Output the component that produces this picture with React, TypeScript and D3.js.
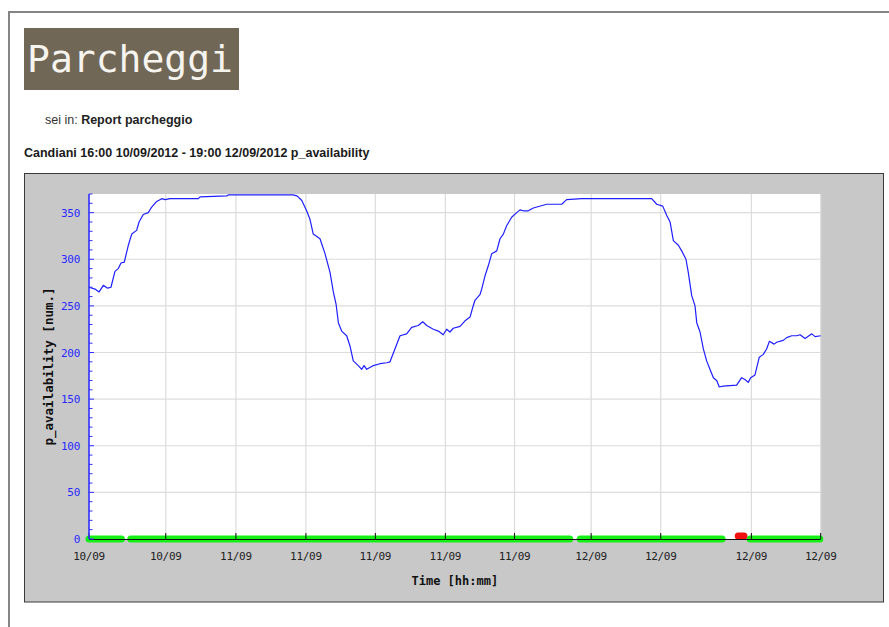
import * as d3 from "d3";

// Candiani car park, p_availability from 16:00 10/09/2012 to 19:00 12/09/2012
const START = new Date(2012, 8, 10, 16, 0);
const SPAN_H = 51;

// hours since START
const hours = [
  0, 0.42, 0.7, 1.0, 1.3, 1.53, 1.81, 2.04, 2.23, 2.46, 2.74, 2.98, 3.32, 3.49, 3.78, 4.13, 4.37, 4.72,
  5.07, 5.3, 5.65, 7.62, 7.74, 9.6, 9.71, 14.22, 14.5, 14.83, 15.17, 15.4, 15.63, 16.1, 16.45, 16.8,
  17.03, 17.22, 17.38, 17.61, 17.96, 18.19, 18.42, 18.77, 19.01, 19.17, 19.36, 19.82, 20.28, 20.75,
  20.98, 21.33, 21.68, 22.14, 22.49, 22.95, 23.26, 23.54, 24.0, 24.35, 24.69, 24.93, 25.16, 25.39,
  25.86, 26.21, 26.56, 26.74, 26.9, 27.25, 27.37, 27.6, 27.83, 28.07, 28.42, 28.65, 28.88, 29.11,
  29.46, 29.81, 30.04, 30.27, 30.62, 30.97, 31.9, 32.95, 33.29, 34.34, 39.22, 39.57, 39.99, 40.27,
  40.5, 40.73, 41.08, 41.31, 41.61, 41.77, 42.01, 42.24, 42.36, 42.59, 42.82, 43.05, 43.28, 43.52,
  43.75, 43.93, 44.21, 45.14, 45.49, 45.72, 45.95, 46.12, 46.42, 46.72, 47.0, 47.24, 47.42, 47.75,
  47.93, 48.39, 48.63, 48.98, 49.33, 49.56, 49.91, 50.38, 50.61, 51.0,
];
const availability = [
  270, 268, 265, 272, 269, 270, 287, 290, 296, 297, 315, 327, 331, 340, 348, 350, 356, 362,
  365, 364, 365, 365, 367, 368, 369, 369, 368, 363, 352, 343, 327, 322, 306, 286,
  265, 252, 232, 223, 218, 207, 191, 186, 182, 186, 182, 186, 188, 189,
  190, 204, 218, 220, 227, 229, 233, 229, 225, 223, 219, 225, 222, 226,
  228, 234, 238, 248, 256, 262, 268, 282, 293, 306, 309, 322, 327, 336,
  345, 350, 353, 352, 352, 355, 359, 359, 364, 365, 365, 359, 357, 347,
  340, 320, 315, 309, 300, 286, 261, 250, 232, 222, 204, 191, 182, 173,
  170, 163, 164, 165, 173, 171, 168, 173, 176, 195, 198, 204, 212, 209,
  211, 213, 216, 218, 218, 219, 215, 220, 217, 218,
];

// x tick positions (hours since START)
const xTickHours = [0, 5.35, 10.24, 15.12, 19.96, 24.84, 29.66, 35.0, 39.85, 46.17, 51.0];
const yTicks = [0, 50, 100, 150, 200, 250, 300, 350];

// data status strip along the time axis: [from h, to h]
const okSpans: [number, number][] = [
  [0, 2.26],
  [2.91, 33.51],
  [34.24, 44.13],
  [46.08, 50.94],
];
const errSpans: [number, number][] = [[45.25, 45.65]];

const toDate = (h: number) => new Date(START.getTime() + h * 3600e3);

const L = 89;
const R = 820.7;
const T = 194;
const B = 539;

const x = d3.scaleTime().domain([START, toDate(SPAN_H)]).range([L, R]);
const y = d3.scaleLinear().domain([0, 370]).range([B, T]);
const fmt = d3.timeFormat("%d/%m");

const mono = "'DejaVu Sans Mono', 'Liberation Mono', monospace";
const sans = "'Liberation Sans', Arial, sans-serif";

export default function App() {
  const line = d3
    .line<number>()
    .x((_, i) => x(toDate(hours[i])))
    .y((v) => y(v));
  const minor = d3.range(0, 371, 10).filter((v) => v % 50 !== 0);

  return (
    <div style={{ position: "absolute", left: 0, top: 0 }}>
      <svg width={889} height={627} viewBox="0 0 889 627" style={{ display: "block", background: "#fff" }}>
        {/* page frame */}
        <line x1={8} y1={12} x2={889} y2={12} stroke="#858585" strokeWidth={2} />
        <line x1={9} y1={11} x2={9} y2={627} stroke="#858585" strokeWidth={2} />

        {/* header */}
        <rect x={24} y={28} width={215} height={62} fill="#716757" />
        <text x={27} y={72} fontFamily={mono} fontSize={38} fill="#f6f4ee">
          Parcheggi
        </text>
        <text x={45} y={124} fontFamily={sans} fontSize={12.5} fill="#333">
          sei in: <tspan fontWeight="bold" fill="#222">Report parcheggio</tspan>
        </text>
        <text x={24} y={157} fontFamily={sans} fontSize={12.5} fontWeight="bold" fill="#1a1a1a">
          Candiani 16:00 10/09/2012 - 19:00 12/09/2012 p_availability
        </text>

        {/* chart panel */}
        <rect x={24.5} y={173.5} width={859} height={428.5} fill="#c8c8c8" stroke="#3a3a3a" strokeWidth={1} />
        <rect x={L} y={T} width={R - L} height={B - T} fill="#fff" />

        {/* grid */}
        {yTicks.slice(1).map((v) => (
          <line key={"gy" + v} x1={L} x2={R} y1={y(v)} y2={y(v)} stroke="#dcdcdc" strokeWidth={1.2} />
        ))}
        {xTickHours.slice(1).map((h) => (
          <line key={"gx" + h} x1={x(toDate(h))} x2={x(toDate(h))} y1={T} y2={B} stroke="#dcdcdc" strokeWidth={1.2} />
        ))}

        {/* series */}
        <path d={line(availability) ?? ""} fill="none" stroke="#1f1fff" strokeWidth={1.2} strokeLinejoin="round" />

        {/* status strip */}
        {okSpans.map(([a, b], i) => (
          <line
            key={"ok" + i}
            x1={x(toDate(a))}
            x2={x(toDate(b))}
            y1={B}
            y2={B}
            stroke="#14f014"
            strokeWidth={7}
            strokeLinecap="round"
          />
        ))}
        {errSpans.map(([a, b], i) => (
          <line
            key={"err" + i}
            x1={x(toDate(a))}
            x2={x(toDate(b))}
            y1={B - 3}
            y2={B - 3}
            stroke="#f01010"
            strokeWidth={7}
            strokeLinecap="round"
          />
        ))}

        {/* x axis */}
        <line x1={L} x2={R} y1={B + 0.5} y2={B + 0.5} stroke="#111" strokeWidth={1} />
        {xTickHours.map((h) => {
          const px = x(toDate(h));
          return (
            <g key={"xt" + h}>
              <line x1={px} x2={px} y1={B} y2={B - 6} stroke="#111" strokeWidth={1} />
              <text x={px} y={560} textAnchor="middle" fontFamily={mono} fontSize={11} letterSpacing={-0.3} fill="#222">
                {fmt(toDate(h))}
              </text>
            </g>
          );
        })}
        <text x={(L + R) / 2} y={585} textAnchor="middle" fontFamily={mono} fontSize={12} fontWeight="bold" fill="#111">
          Time [hh:mm]
        </text>

        {/* y axis */}
        <line x1={L} x2={L} y1={T} y2={B} stroke="#3030ff" strokeWidth={1.6} />
        {minor.map((v) => (
          <line key={"my" + v} x1={L} x2={L + 3.5} y1={y(v)} y2={y(v)} stroke="#3030ff" strokeWidth={1} />
        ))}
        {yTicks.map((v) => (
          <g key={"yt" + v}>
            <line x1={L} x2={L + 5} y1={y(v)} y2={y(v)} stroke="#3030ff" strokeWidth={1} />
            <text x={80} y={y(v) + 4} textAnchor="end" fontFamily={mono} fontSize={11} letterSpacing={-0.3} fill="#2a2aff">
              {v}
            </text>
          </g>
        ))}
        <text
          transform={`translate(52.5, ${(T + B) / 2}) rotate(-90)`}
          textAnchor="middle"
          fontFamily={mono}
          fontSize={12.5}
          fontWeight="bold"
          fill="#111"
        >
          p_availability [num.]
        </text>
      </svg>
    </div>
  );
}
